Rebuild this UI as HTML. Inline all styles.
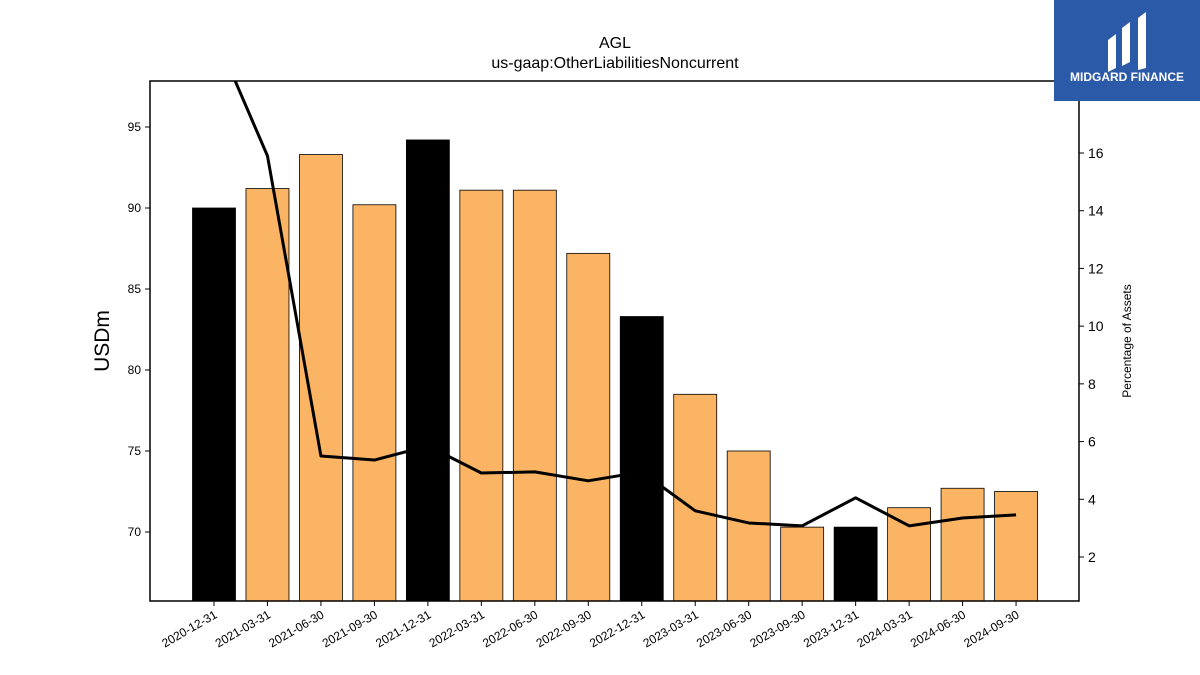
<!DOCTYPE html>
<html><head><meta charset="utf-8"><style>
body{margin:0;background:#fff;font-family:"Liberation Sans","DejaVu Sans",sans-serif;}
#wrap{position:relative;width:1200px;height:675px;overflow:hidden;}
</style></head><body>
<div id="wrap">
<svg id="chart" width="1200" height="675" xmlns="http://www.w3.org/2000/svg">
<text x="615" y="48" text-anchor="middle" font-size="16">AGL</text>
<text x="615" y="68" text-anchor="middle" font-size="16">us-gaap:OtherLiabilitiesNoncurrent</text>
<g id="bars"></g>
<g id="line"></g>
<rect x="150" y="81" width="929" height="520" fill="none" stroke="#000" stroke-width="1.5"/>
<g id="axes"></g>
<text transform="translate(109,341) rotate(-90)" text-anchor="middle" font-size="21">USDm</text>
<text transform="translate(1131,341) rotate(-90)" text-anchor="middle" font-size="12">Percentage of Assets</text>
<g>
<rect x="1054" y="0" width="146" height="101" fill="#2b5aa8"/>
<path d="M1108 40 L1116 34 L1116 68 L1108 72 Z M1122 28 L1130 22 L1130 62 L1122 66 Z M1138 18 L1146 12 L1146 68 L1138 70 Z" fill="#fff"/>
<text x="1127" y="81" text-anchor="middle" font-size="12" font-weight="bold" fill="#fff">MIDGARD FINANCE</text>
</g>
</svg>
</div>
<script>
const categories=["2020-12-31","2021-03-31","2021-06-30","2021-09-30","2021-12-31","2022-03-31","2022-06-30","2022-09-30","2022-12-31","2023-03-31","2023-06-30","2023-09-30","2023-12-31","2024-03-31","2024-06-30","2024-09-30"];
const barValues=[90.0,91.2,93.3,90.2,94.2,91.1,91.1,87.2,83.3,78.5,75.0,70.3,70.3,71.5,72.7,72.5];
const pctValues=[20.2,15.9,5.5,5.36,5.85,4.91,4.95,4.64,4.95,3.6,3.18,3.08,4.05,3.08,3.35,3.46];
const leftTicks=[70,75,80,85,90,95];
const rightTicks=[2,4,6,8,10,12,14,16];
const NS="http://www.w3.org/2000/svg";
const X0=150,X1=1079,Y0=81,Y1=601;
const yL=v=>532-(v-70)*16.2;
const yR=v=>153-(v-16)*28.857;
const xC=i=>214+i*53.47;
function mk(t,a,p){const e=document.createElementNS(NS,t);for(const k in a)e.setAttribute(k,a[k]);p.appendChild(e);return e;}
const bars=document.getElementById('bars'),line=document.getElementById('line'),axes=document.getElementById('axes');
const defs=mk('clipPath',{id:'clip'},document.getElementById('chart'));
mk('rect',{x:X0,y:Y0,width:X1-X0,height:Y1-Y0},defs);
line.setAttribute('clip-path','url(#clip)');
barValues.forEach((v,i)=>{
 const r=mk('rect',{x:xC(i)-21.5,y:yL(v),width:43,height:Y1-yL(v),fill:(i%4===0)?'#000':'#fbb463',stroke:'#000','stroke-width':0.8},bars);
 
 
});
const pts=pctValues.map((v,i)=>xC(i)+','+yR(v)).join(' ');
const pl=mk('polyline',{points:pts,fill:'none',stroke:'#000','stroke-width':3,'stroke-linejoin':'round'},line);


leftTicks.forEach(t=>{
 const l=mk('line',{x1:X0-5,x2:X0,y1:yL(t),y2:yL(t),stroke:'#000'},axes);
 
 
 const tx=mk('text',{x:X0-9,y:yL(t)+4,'text-anchor':'end','font-size':12},axes);tx.textContent=t;
 
 
});
rightTicks.forEach(t=>{
 const l=mk('line',{x1:X1,x2:X1+5,y1:yR(t),y2:yR(t),stroke:'#000'},axes);
 
 
 const tx=mk('text',{x:X1+9,y:yR(t)+5,'font-size':14},axes);tx.textContent=t;
 
 
});
categories.forEach((c,i)=>{
 const l=mk('line',{x1:xC(i),x2:xC(i),y1:Y1,y2:Y1+5,stroke:'#000'},axes);
 
 
 const tx=mk('text',{x:0,y:0,'text-anchor':'end','font-size':12,transform:`translate(${xC(i)+4},${Y1+16}) rotate(-30)`},axes);tx.textContent=c;
 
 
});
</script>
</body></html>
